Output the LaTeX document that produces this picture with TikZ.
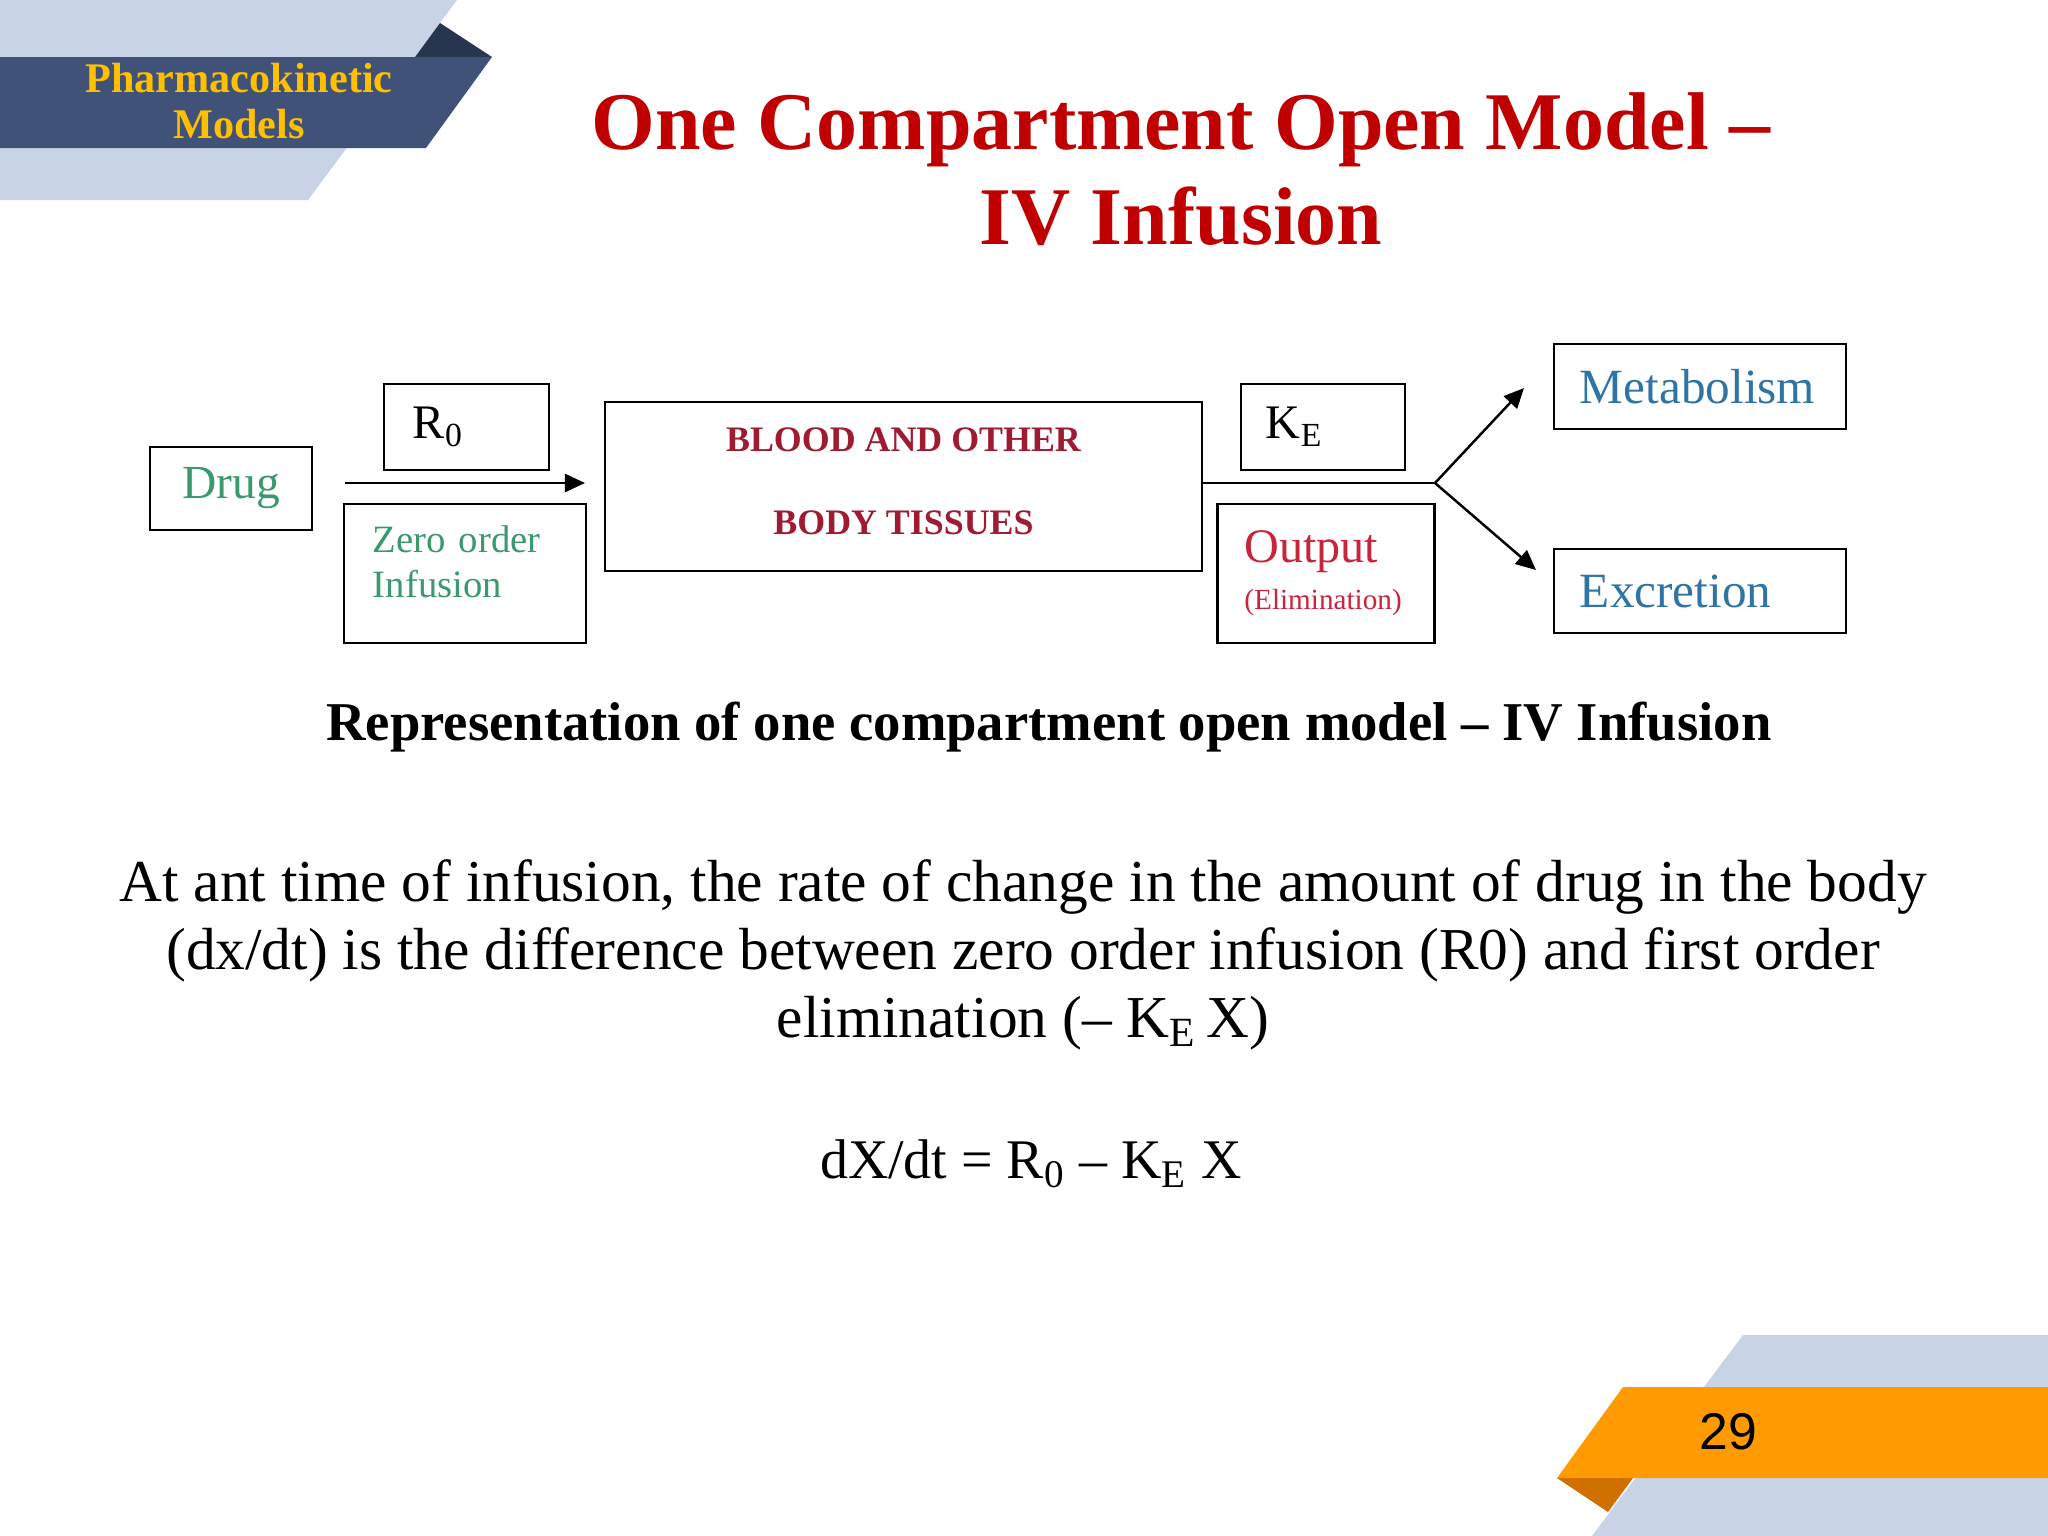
\documentclass[tikz,border=0pt]{standalone}
\usepackage{fontspec}
\setmainfont{Liberation Serif}
\newfontfamily\arialfont{Liberation Sans}
\usepackage{xcolor}
\usepackage{tikz}
\usetikzlibrary{arrows.meta, positioning, calc}
\definecolor{slidered}{HTML}{C00000}
\definecolor{bandgold}{HTML}{FFC000}
\definecolor{bandnavy}{HTML}{415278}
\definecolor{foldnavy}{HTML}{28354F}
\definecolor{palegray}{HTML}{C8D4E6}
\definecolor{pageorange}{HTML}{FF9A00}
\definecolor{foldorange}{HTML}{D07000}
\definecolor{drugGreen}{HTML}{3A9A6E}
\definecolor{tissueRed}{HTML}{9E1B32}
\definecolor{outRed}{HTML}{C8243C}
\definecolor{routeBlue}{HTML}{2E75A6}
\tikzset{
    cbox/.style={rectangle, draw=black, line width=0.65pt, align=center},
    lbox/.style={rectangle, draw=black, line width=0.65pt, align=left,
                 inner ysep=0pt},
    arr/.style={-{Triangle[length=0.2cm,width=0.18cm]}, line width=0.7pt},
    link/.style={line width=0.7pt}
}

\begin{document}
\begin{tikzpicture}[x=0.01cm, y=-0.01cm]
\useasboundingbox (0,0) rectangle (2048,1536);
\fill[white] (0,0) rectangle (2048,1536);

% corner ribbons
\fill[palegray] (0,0) -- (457,0) -- (308,200) -- (0,200) -- cycle;
\fill[foldnavy] (415,57) -- (440,23) -- (492,57) -- cycle;
\fill[bandnavy] (0,57) -- (492,57) -- (426,148) -- (0,148) -- cycle;
\fill[palegray] (1743,1335) -- (2048,1335) -- (2048,1536) -- (1592,1536) -- cycle;
\fill[pageorange] (1623,1387) -- (2048,1387) -- (2048,1478) -- (1557,1478) -- cycle;
\fill[foldorange] (1557,1478) -- (1608,1512) -- (1633,1478) -- cycle;

\node[font=\fontsize{12}{13.1}\selectfont\bfseries, text=bandgold, align=center]
    at (239,101) (section) {Pharmacokinetic\\Models};
\node[font=\fontsize{23.3}{27}\selectfont\bfseries, text=slidered, align=center]
    at (1181,169) (title) {One Compartment Open Model –\\IV Infusion};
\node[font=\arialfont\fontsize{14.7}{17}\selectfont] at (1728,1432) (pageno) {29};

% model diagram
\node[cbox, minimum width=1.62cm, minimum height=0.83cm,
      font=\fontsize{13.5}{16}\selectfont, text=drugGreen] at (231,488.5) (drug) {Drug};
\node[lbox, inner xsep=0.29cm, text width=1.07cm, minimum height=0.86cm,
      font=\fontsize{13.7}{16}\selectfont] at (466.5,427) (rate) {R\textsubscript{0}};
\node[lbox, inner xsep=0.29cm, text width=1.84cm, minimum height=1.39cm, text depth=0.68cm,
      font=\fontsize{11}{12.8}\selectfont, text=drugGreen] at (465,573.5) (zero) {Zero order\\Infusion};
\node[cbox, minimum width=5.97cm, minimum height=1.69cm, text depth=0.1cm,
      font=\fontsize{10.2}{23.6}\selectfont\bfseries, text=tissueRed] at (903.5,486.5) (blood)
      {BLOOD AND OTHER\\BODY TISSUES};
\node[lbox, inner xsep=0.25cm, text width=1.14cm, minimum height=0.86cm,
      font=\fontsize{13.7}{16}\selectfont] at (1323,427) (ke) {K\textsubscript{E}};
\node[lbox, inner xsep=0.27cm, text width=1.63cm, minimum height=1.39cm,
      font=\fontsize{13.7}{13.4}\selectfont, text=outRed] at (1326,573.5) (output)
      {Output\\{\fontsize{8.3}{10}\selectfont (Elimination)}};
\node[lbox, inner xsep=0.26cm, text width=2.40cm, minimum height=0.85cm,
      font=\fontsize{14}{16}\selectfont, text=routeBlue] at (1700,386.5) (metab) {Metabolism};
\node[lbox, inner xsep=0.26cm, text width=2.40cm, minimum height=0.84cm,
      font=\fontsize{14}{16}\selectfont, text=routeBlue] at (1700,591) (excr) {Excretion};

\coordinate (inStart) at (345,483);
\coordinate (inEnd)   at (585,483);
\coordinate (split)   at (1435,483);
\coordinate (metTip)  at (1524,388);
\coordinate (excTip)  at (1536,570);

\draw[arr]  (inStart) -- (inEnd);
\draw[link] (blood.east |- split) -- (split);
\draw[arr]  (split) -- (metTip);
\draw[arr]  (split) -- (excTip);

% caption and text
\node[font=\fontsize{15.55}{18}\selectfont\bfseries, anchor=base] at (1049,740) (caption)
    {Representation of one compartment open model – IV Infusion};
\node[font=\fontsize{16.9}{19.35}\selectfont, align=center] at (1023,955) (body)
    {At ant time of infusion, the rate of change in the amount of drug in the body\\
     (dx/dt) is the difference between zero order infusion (R0) and first order\\
     elimination (– K\textsubscript{E}\,X)};
\node[font=\fontsize{15.9}{18}\selectfont, anchor=base] at (1031,1178) (rateeq)
    {dX/dt = R\textsubscript{0} – K\textsubscript{E} X};
\end{tikzpicture}
\end{document}
